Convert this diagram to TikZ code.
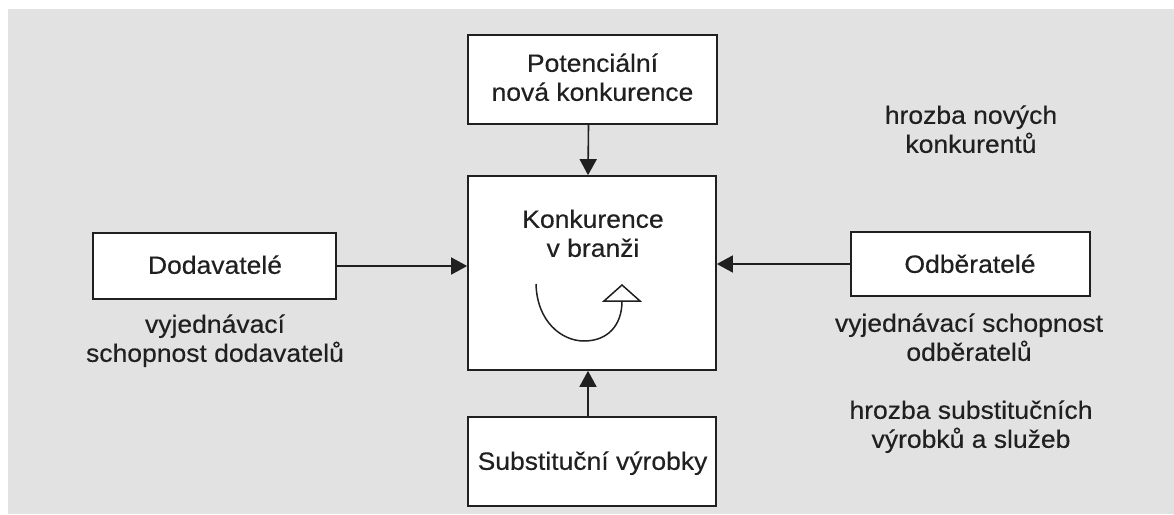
\documentclass[tikz,border=0pt]{standalone}
\usepackage{fontspec}
\setmainfont{Liberation Sans}[FakeStretch=1.06,FakeBold=0.35]
\usetikzlibrary{arrows.meta}
\definecolor{bg}{RGB}{226,226,226}
\definecolor{ink}{RGB}{32,32,32}
\begin{document}
\begin{tikzpicture}[x=1pt,y=-1pt,
  box/.style={draw=ink, line width=1.7pt, fill=white, inner sep=0pt},
  txt/.style={font=\fontsize{25}{29}\selectfont, text=ink, align=center, inner sep=0pt, text depth=0pt, anchor=south},
  conn/.style={draw=ink, line width=1.6pt, -{Triangle[length=16pt,width=17pt]}}]
\fill[white] (0,0) rectangle (1174,514);
\fill[bg] (8,9) rectangle (1174,514);
\useasboundingbox (0,0) rectangle (1174,514);
% boxes
\node[box, minimum width=249pt, minimum height=89pt] (top) at (592.5,79.5) {};
\node[box, minimum width=248pt, minimum height=194pt] (kon) at (592,273) {};
\node[box, minimum width=243pt, minimum height=66pt] (dod) at (214.5,266) {};
\node[box, minimum width=239pt, minimum height=64pt] (odb) at (970.5,264) {};
\node[box, minimum width=248pt, minimum height=89pt] (sub) at (592,461.5) {};
% texts
\node[txt] (ttop) at (592.5,101) {Potenciální\\nová konkurence};
\node[txt] (tkon) at (593,257) {Konkurence\\v branži};
\node[txt] (tdod) at (215,274) {Dodavatelé};
\node[txt] (todb) at (970,273) {Odběratelé};
\node[txt] (tsub) at (592.5,470) {Substituční výrobky};
\node[txt] (lnew) at (971,153) {hrozba nových\\konkurentů};
\node[txt] (ldod) at (215,362) {vyjednávací\\schopnost dodavatelů};
\node[txt] (lodb) at (969,361) {vyjednávací schopnost\\odběratelů};
\node[txt] (lsub) at (971,448) {hrozba substitučních\\výrobků a služeb};
% connectors
\draw[conn] ([xshift=-4pt]top.south) -- ([xshift=-4pt]kon.north);
\draw[conn] ([xshift=-4pt]sub.north) -- ([xshift=-4pt]kon.south);
\draw[conn] (dod.east) -- (dod.east -| kon.west);
\draw[conn] (odb.west) -- (odb.west -| kon.east);
% rotation arrow
\coordinate (rs) at (536,284);
\coordinate (rb) at (584,341);
\coordinate (re) at (622,301);
\draw[ink, line width=1.5pt] (rs) .. controls (537,322) and (562,341) .. (rb) .. controls (607,341) and (622,326) .. (re);
\draw[ink, line width=1.5pt, fill=white, line join=miter] (604,301) -- (622,285) -- (640,301) -- cycle;
\end{tikzpicture}
\end{document}
